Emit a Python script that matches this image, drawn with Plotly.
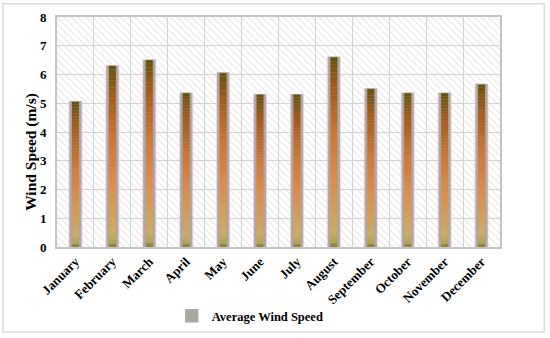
import numpy as np
import plotly.graph_objects as go

months = ["January", "February", "March", "April", "May", "June", "July",
          "August", "September", "October", "November", "December"]
wind_speed = [5.05, 6.3, 6.5, 5.35, 6.05, 5.3, 5.3, 6.6, 5.5, 5.35, 5.35, 5.65]
series_name = "Average Wind Speed"
y_title = "Wind Speed (m/s)"
y_max = 8

FONT = "Liberation Serif"

# gradient stops (position from bottom, colour)
stops = [(0.0, (90, 80, 20)), (0.015, (170, 160, 80)), (0.08, (206, 172, 100)),
         (0.35, (222, 140, 76)), (0.6, (204, 116, 52)), (0.85, (160, 90, 28)),
         (1.0, (100, 82, 16))]


def grad_color(t):
    for (p0, c0), (p1, c1) in zip(stops[:-1], stops[1:]):
        if p0 <= t <= p1:
            f = (t - p0) / (p1 - p0) if p1 > p0 else 0
            c = [round(a + (b - a) * f) for a, b in zip(c0, c1)]
            return f"rgb({c[0]},{c[1]},{c[2]})"
    c = stops[-1][1]
    return f"rgb({c[0]},{c[1]},{c[2]})"


fig = go.Figure()

# hatched background
fig.add_trace(go.Bar(
    x=months, y=[y_max] * len(months), width=1,
    marker=dict(color="rgba(0,0,0,0)", line=dict(width=0),
                pattern=dict(shape="\\", fgcolor="#cfcfcf", bgcolor="rgba(0,0,0,0)",
                             size=5, solidity=0.22)),
    showlegend=False, hoverinfo="skip"))

# pink halo
fig.add_trace(go.Bar(
    x=months, y=wind_speed, width=0.38,
    marker=dict(color="rgba(255,180,205,0.55)", line=dict(width=0)),
    showlegend=False, hoverinfo="skip"))

# gray outline bar (legend entry)
fig.add_trace(go.Bar(
    x=months, y=wind_speed, width=0.29, name=series_name,
    marker=dict(color="#aaa89c", line=dict(color="#acacac", width=1.5)),
    showlegend=True))

# gradient bars built from stacked slices
N = 50
vals = np.array(wind_speed)
for k in range(N):
    t = (k + 0.5) / N
    fig.add_trace(go.Bar(
        x=months, y=vals / N, base=vals * k / N, width=0.19,
        marker=dict(color=grad_color(t), line=dict(width=0)),
        showlegend=False, hoverinfo="skip"))

fig.update_layout(
    width=550, height=338,
    barmode="overlay",
    paper_bgcolor="white", plot_bgcolor="white",
    margin=dict(l=57, r=50, t=17, b=91, autoexpand=False),
    font=dict(family=FONT, color="black"),
    xaxis=dict(type="category", tickson="boundaries", showgrid=True, automargin=False,
               gridcolor="#d4d4d4", gridwidth=1, tickangle=-45,
               tickfont=dict(family=FONT, size=13, color="black", weight="bold"),
               showline=True, linecolor="#c4c4c4", linewidth=2, mirror=True,
               ticks="", ticklen=0),
    yaxis=dict(range=[0, y_max], dtick=1, showgrid=True, gridcolor="#d4d4d4",
               gridwidth=1, zeroline=False, automargin=False,
               tickfont=dict(family=FONT, size=13, color="black", weight="bold"),
               showline=True, linecolor="#c4c4c4", linewidth=2, mirror=True,
               ticks="", ticklabelstandoff=6),
    legend=dict(orientation="h", xref="container", yref="container",
                x=0.455, xanchor="center", y=0.065, yanchor="middle",
                font=dict(family=FONT, size=12.5, color="black", weight="bold"),
                bgcolor="rgba(0,0,0,0)", itemwidth=30),
    annotations=[dict(text=y_title, textangle=-90, xref="paper", yref="paper",
                      x=-0.059, y=0.413, xanchor="center", yanchor="middle",
                      showarrow=False,
                      font=dict(family=FONT, size=15.5, color="black", weight="bold"))],
    shapes=[dict(type="rect", xref="paper", yref="paper", x0=-0.122, x1=1.1,
                 y0=-0.37, y1=1.058, line=dict(color="#dcdcdc", width=1.5),
                 layer="below")],
)

fig.write_html("out.html", config={"displayModeBar": False},
               post_script="document.body.style.margin='0';document.body.style.overflow='hidden';")
